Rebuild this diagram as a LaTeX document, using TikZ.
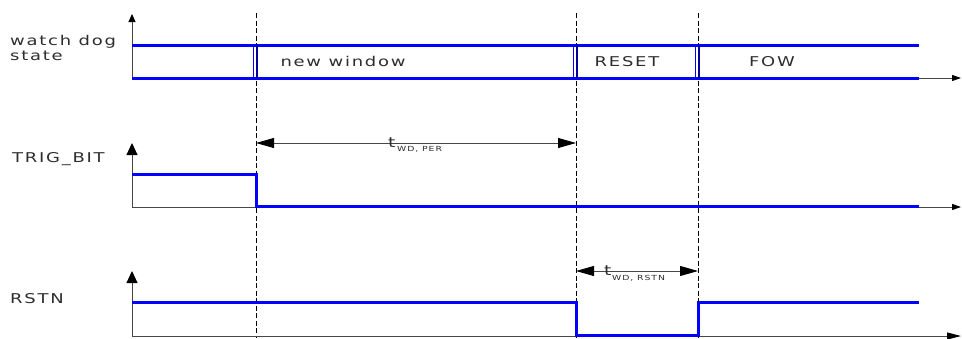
\documentclass[tikz,border=0pt]{standalone}
\usepackage{fontspec}
\setmainfont{DejaVu Sans}[FakeStretch=1.33,LetterSpace=13]
\usetikzlibrary{arrows.meta}
\definecolor{sig}{RGB}{0,0,255}
\definecolor{axisc}{RGB}{70,70,70}
\definecolor{txt}{RGB}{45,45,45}
\begin{document}
\begin{tikzpicture}[x=1pt,y=-1pt,
  sigline/.style={draw=sig,line width=3pt,line join=miter},
  axisline/.style={draw=axisc,line width=0.9pt},
  yarrow/.style={axisline,-{Triangle[length=8pt,width=7pt,color=black,fill=black]}},
  yarrowbig/.style={axisline,-{Triangle[length=12pt,width=11pt,color=black,fill=black]}},
  xarrow/.style={axisline,-{Triangle[length=9pt,width=6pt,color=black,fill=black]}},
  xarrowbig/.style={axisline,-{Triangle[length=14pt,width=7pt,color=black,fill=black]}},
  guide/.style={draw=black,line width=0.8pt,dash pattern=on 5pt off 2.5pt},
  dimarrow/.style={draw=axisc,line width=0.8pt,{Triangle[length=18pt,width=10pt,color=black,fill=black]}-{Triangle[length=18pt,width=10pt,color=black,fill=black]}},
  lbl/.style={font=\fontsize{13.5}{15}\selectfont,text=txt,inner sep=0pt},
  tlbl/.style={font=\fontsize{14}{14}\selectfont,text=txt,inner sep=0pt,anchor=base west},
  sublbl/.style={font=\fontsize{7}{8}\selectfont,text=txt,inner sep=0pt,anchor=base west}]
\useasboundingbox (0,0) rectangle (962,338);
% time marks
\coordinate (m1) at (256,0);
\coordinate (m2) at (576,0);
\coordinate (m3) at (698,0);
% guide lines
\foreach \m in {m1,m2,m3} \draw[guide] (\m |- 0,13) -- (\m |- 0,338);
% ---------------- watch dog state
\coordinate (a1o) at (132,78);
\coordinate (a1t) at (132,14);
\coordinate (a1e) at (961,78);
\draw[yarrow] (a1o) -- (a1t);
\draw[xarrow] (a1o) -- (a1e);
\draw[sigline] (132,45) -- (919,45);
\draw[sigline] (132,78) -- (919,78);
\foreach \m in {m1,m2,m3} {
  \draw[draw=sig,line width=1.2pt] ([xshift=-2.5pt]\m |- 0,45) -- ([xshift=-2.5pt]\m |- 0,78);
  \draw[draw=sig!60!black,line width=2.6pt] ([xshift=1pt]\m |- 0,45) -- ([xshift=1pt]\m |- 0,78);
}
\node[lbl,anchor=base west] (wd1) at (10,45) {watch dog};
\node[lbl,anchor=base west] (wd2) at (10,60) {state};
\node[lbl,anchor=base] (nw) at (343,66) {new window};
\node[lbl,anchor=base] (rs) at (627,66) {RESET};
\node[lbl,anchor=base] (fw) at (772,66) {FOW};
% ---------------- TRIG_BIT
\coordinate (a2o) at (132,207);
\coordinate (a2t) at (132,143);
\coordinate (a2e) at (961,207);
\draw[yarrowbig] (a2o) -- (a2t);
\draw[xarrow] (a2o) -- (a2e);
\draw[sigline] (132,174) -- (256,174) -- (256,206) -- (919,206);
\node[lbl,anchor=base west] (tb) at (12,162) {TRIG\_BIT};
\coordinate (d1a) at (256,143);
\coordinate (d1b) at (576,143);
\draw[dimarrow] (d1a) -- (d1b);
\node[tlbl] (t1) at (388,147) {t};
\node[sublbl] (s1) at (397,151) {WD, PER};
% ---------------- RSTN
\coordinate (a3o) at (132,336);
\coordinate (a3t) at (132,271);
\coordinate (a3e) at (961,336);
\draw[yarrowbig] (a3o) -- (a3t);
\draw[xarrowbig] (a3o) -- (a3e);
\draw[sigline] (132,302) -- (576,302) -- (576,335) -- (698,335) -- (698,302) -- (919,302);
\node[lbl,anchor=base west] (rn) at (10,303) {RSTN};
\coordinate (d2a) at (576,271);
\coordinate (d2b) at (698,271);
\draw[dimarrow] (d2a) -- (d2b);
\node[tlbl] (t2) at (604,275) {t};
\node[sublbl] (s2) at (612,280) {WD, RSTN};
\end{tikzpicture}
\end{document}
